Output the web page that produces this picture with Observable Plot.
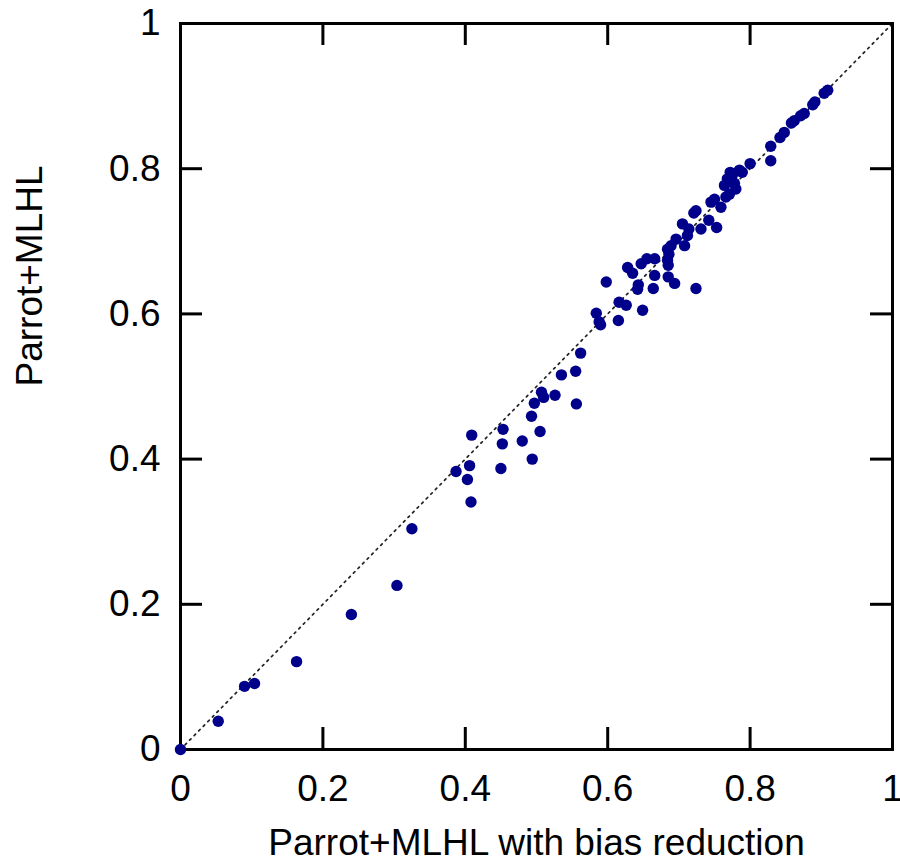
<!DOCTYPE html>
<html><head><meta charset="utf-8">
<script src="https://cdn.jsdelivr.net/npm/d3@7"></script>
<script src="https://cdn.jsdelivr.net/npm/@observablehq/plot@0.6"></script>
<style>body{margin:0;background:#fff}</style>
</head><body><div id="chart"></div>
<script>
// Parrot+MLHL with bias reduction (x) vs Parrot+MLHL (y)
const xValues = [
  0, 0.053, 0.090, 0.104, 0.163, 0.240, 0.304, 0.325,
  0.387, 0.406, 0.403, 0.408, 0.409,
  0.453, 0.452, 0.450, 0.480, 0.494, 0.505, 0.493, 0.497, 0.507, 0.510, 0.526, 0.556, 0.535, 0.555, 0.562,
  0.584, 0.588, 0.590, 0.598, 0.615, 0.616, 0.626, 0.649, 0.628, 0.635, 0.643, 0.642, 0.647, 0.655, 0.666, 0.666, 0.664, 0.685, 0.694, 0.724,
  0.685, 0.684, 0.686, 0.684, 0.689, 0.696, 0.708, 0.712, 0.714, 0.705, 0.731, 0.753, 0.742, 0.721, 0.724, 0.745, 0.750, 0.759,
  0.766, 0.771, 0.780, 0.764, 0.768, 0.775, 0.785, 0.789, 0.778, 0.772,
  0.800, 0.829, 0.829, 0.842, 0.848, 0.858, 0.862, 0.871, 0.876, 0.888, 0.891, 0.904, 0.909
];
const yValues = [
  0, 0.039, 0.087, 0.091, 0.121, 0.186, 0.226, 0.304,
  0.383, 0.391, 0.372, 0.341, 0.433,
  0.441, 0.421, 0.387, 0.425, 0.400, 0.438, 0.459, 0.477, 0.492, 0.485, 0.488, 0.476, 0.516, 0.521, 0.546,
  0.601, 0.589, 0.585, 0.644, 0.591, 0.616, 0.612, 0.605, 0.664, 0.656, 0.640, 0.634, 0.669, 0.676, 0.676, 0.653, 0.635, 0.651, 0.642, 0.635,
  0.667, 0.674, 0.682, 0.689, 0.694, 0.703, 0.694, 0.708, 0.717, 0.724, 0.717, 0.719, 0.729, 0.739, 0.742, 0.754, 0.758, 0.747,
  0.761, 0.765, 0.772, 0.777, 0.786, 0.791, 0.798, 0.795, 0.780, 0.795,
  0.807, 0.811, 0.831, 0.843, 0.850, 0.863, 0.866, 0.873, 0.876, 0.888, 0.892, 0.904, 0.908
];
const tickValues = [0, 0.2, 0.4, 0.6, 0.8, 1];
const tickLabels = ["0", "0.2", "0.4", "0.6", "0.8", "1"];
const diagonal = [0, 1];
const xTitle = "Parrot+MLHL with bias reduction";
const yTitle = "Parrot+MLHL";

const points = xValues.map((x, i) => ({x, y: yValues[i]}));
const W = 900, H = 864, mL = 180, mR = 8, mT = 23, mB = 115;
const fw = W - mL - mR, fh = H - mT - mB, tl = 22;
const fmt = d => tickLabels[tickValues.indexOf(d)];
const tickStyle = {stroke: "black", strokeWidth: 3};

const chart = Plot.plot({
  width: W, height: H,
  marginLeft: mL, marginRight: mR, marginTop: mT, marginBottom: mB,
  x: {domain: [0, 1]},
  y: {domain: [0, 1]},
  style: {fontFamily: "'Liberation Sans', Arial, sans-serif", fontSize: "36px", background: "white", color: "black"},
  marks: [
    Plot.line(diagonal, {x: d => d, y: d => d, stroke: "#222", strokeWidth: 1.7, strokeDasharray: "2,4.5"}),
    Plot.frame({stroke: "black", strokeWidth: 3}),
    Plot.tickX(tickValues, {x: d => d, insetTop: fh - tl, ...tickStyle}),
    Plot.tickX(tickValues, {x: d => d, insetBottom: fh - tl, ...tickStyle}),
    Plot.tickY(tickValues, {y: d => d, insetRight: fw - tl, ...tickStyle}),
    Plot.tickY(tickValues, {y: d => d, insetLeft: fw - tl, ...tickStyle}),
    Plot.axisX(tickValues, {tickSize: 0, tickPadding: 25, tickFormat: fmt, fontSize: 37, label: null}),
    Plot.axisY(tickValues, {tickSize: 0, tickPadding: 20, tickFormat: fmt, fontSize: 37, label: null}),
    Plot.text([xTitle], {frameAnchor: "bottom", dy: 94, text: d => d, fontSize: 37, lineAnchor: "middle"}),
    Plot.text([yTitle], {frameAnchor: "left", dx: -150, rotate: -90, text: d => d, fontSize: 37, lineAnchor: "middle"}),
    Plot.dot(points, {x: "x", y: "y", r: 5.7, fill: "#00008b", stroke: "none"})
  ]
});
document.getElementById("chart").appendChild(chart);
</script>
</body></html>
